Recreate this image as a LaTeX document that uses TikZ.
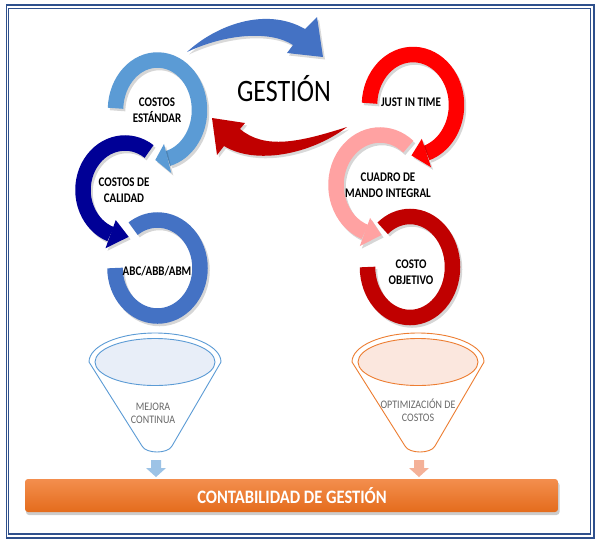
\documentclass[tikz,border=0pt]{standalone}
\usepackage{fontspec}
\setmainfont{Carlito}
\usetikzlibrary{calc}
\definecolor{framec}{RGB}{47,80,140}
\definecolor{lblue}{RGB}{91,155,213}
\definecolor{navyc}{RGB}{0,0,150}
\definecolor{mblue}{RGB}{68,114,196}
\definecolor{bred}{RGB}{255,0,0}
\definecolor{pinkc}{RGB}{255,162,162}
\definecolor{dred}{RGB}{192,0,0}
\definecolor{fbluefill}{RGB}{232,238,248}
\definecolor{forange}{RGB}{237,125,49}
\definecolor{forangefill}{RGB}{251,231,222}
\definecolor{arrblue}{RGB}{157,195,230}
\definecolor{arrorange}{RGB}{244,177,152}
\definecolor{bartop}{RGB}{243,142,78}
\definecolor{barbot}{RGB}{228,108,28}
\definecolor{ftext}{RGB}{105,105,105}

% cx cy rx ry start end color
\newcommand\ringarc[7]{%
 \begin{scope}[shift={(#1,#2)}]
  \draw[line width=15.5, black, opacity=.16, shift={(2,2.5)}] (#5:#3 and #4) arc[start angle=#5, end angle=#6, x radius=#3, y radius=#4];
  \draw[line width=15.5, #7] (#5:#3 and #4) arc[start angle=#5, end angle=#6, x radius=#3, y radius=#4];
 \end{scope}}
% cx cy rx ry baseangle tipangle halfwidth color
\newcommand\ringhead[8]{%
 \begin{scope}[shift={(#1,#2)}]
  \pgfmathsetmacro\hax{(#3+#7)*cos(#5)}\pgfmathsetmacro\hay{(#4+#7)*sin(#5)}%
  \pgfmathsetmacro\hbx{(#3-#7)*cos(#5)}\pgfmathsetmacro\hby{(#4-#7)*sin(#5)}%
  \pgfmathsetmacro\htx{#3*cos(#6)}\pgfmathsetmacro\hty{#4*sin(#6)}%
  \fill[black, opacity=.16, shift={(2,2.5)}] (\hax,\hay) -- (\htx,\hty) -- (\hbx,\hby) -- cycle;
  \fill[#8] (\hax,\hay) -- (\htx,\hty) -- (\hbx,\hby) -- cycle;
 \end{scope}}

\tikzset{
 ringtxt/.style={font=\bfseries\fontsize{11}{13}\selectfont, align=center, inner sep=0pt, text=black, yscale=1.2, transform shape},
 funneltxt/.style={font=\fontsize{10}{11.5}\selectfont, align=center, inner sep=0pt, text=ftext, yscale=1.15, transform shape},
 framebox/.style={draw=framec, line width=1.3},
}

\begin{document}
\begin{tikzpicture}[x=1pt, y=-1pt]
\useasboundingbox (0,0) rectangle (599,542);
\fill[white] (0,0) rectangle (599,542);

% frame
\draw[framebox] (6.5,5) rectangle (594,538);
\draw[framebox] (8.8,8.3) rectangle (590.5,534);

% big blue arrow (top)
\begin{scope}[shift={(2,2.5)}]
\fill[black, opacity=.15] (187,52) .. controls (215,26) and (265,6) .. (305,29) -- (317,17) -- (323,57) -- (287,53) -- (293,45) .. controls (270,30) and (225,34) .. (187,52) -- cycle;
\end{scope}
\fill[mblue] (187,52) .. controls (215,26) and (265,6) .. (305,29) -- (317,17) -- (323,57) -- (287,53) -- (293,45) .. controls (270,30) and (225,34) .. (187,52) -- cycle;

% big red arrow (middle)
\begin{scope}[shift={(2,2.5)}]
\fill[black, opacity=.15] (347,127) .. controls (300,142) and (265,150) .. (240,129) -- (245,123) -- (212,118) -- (217,155) -- (224,146) .. controls (255,165) and (310,155) .. (347,127) -- cycle;
\end{scope}
\fill[dred] (347,127) .. controls (300,142) and (265,150) .. (240,129) -- (245,123) -- (212,118) -- (217,155) -- (224,146) .. controls (255,165) and (310,155) .. (347,127) -- cycle;

% left column rings
\ringarc{157.5}{268}{42.5}{48}{-180}{-485}{mblue}
\ringarc{125}{190}{42}{47}{-55}{-250}{navyc}
\ringhead{125}{190}{42}{47}{-250}{-275}{15}{navyc}
\ringarc{157.5}{110}{42}{50}{182}{436}{lblue}
\ringhead{157.5}{110}{42}{50}{436}{453}{15}{lblue}

% right column rings
\ringarc{410}{267}{42.5}{50.5}{-180}{-490}{dred}
\ringarc{380}{185}{44}{50}{-50}{-250}{pinkc}
\ringhead{380}{185}{44}{50}{-250}{-272}{15}{pinkc}
\ringarc{413}{105}{43.5}{50.5}{182}{432}{bred}
\ringhead{413}{105}{43.5}{50.5}{432}{452}{15}{bred}

% ring texts
\node[ringtxt] (cs) at (157,110) {COSTOS\\ESTÁNDAR};
\node[ringtxt] (cc) at (124,190) {COSTOS DE\\CALIDAD};
\node[ringtxt] (abc) at (157,271) {ABC/ABB/ABM};
\node[ringtxt] (jit) at (411,102) {JUST IN TIME};
\node[ringtxt] (cmi) at (388,185) {CUADRO DE\\MANDO INTEGRAL};
\node[ringtxt] (co) at (411,272) {COSTO\\OBJETIVO};

% title
\node[font=\fontsize{26}{30}\selectfont, inner sep=0pt, yscale=1.2, transform shape] (gestion) at (284,89) {GESTIÓN};

% funnels
\draw[lblue, line width=.9, fill=white] (89,362) -- (142,446) .. controls (146,454) and (168,454) .. (172,446) -- (221,362) arc[start angle=0, end angle=-180, x radius=66, y radius=29] -- cycle;
\draw[lblue, line width=.9, fill=fbluefill] (155,362) ellipse[x radius=60, y radius=23.5];
\node[funneltxt] (mc) at (153,413) {MEJORA\\CONTINUA};

\draw[forange, line width=.9, fill=white] (352,362) -- (405,446) .. controls (409,454) and (431,454) .. (435,446) -- (484,362) arc[start angle=0, end angle=-180, x radius=66, y radius=29] -- cycle;
\draw[forange, line width=.9, fill=forangefill] (418,362) ellipse[x radius=60, y radius=23.5];
\node[funneltxt] (oc) at (418,410) {OPTIMIZACIÓN DE\\COSTOS};

% small down arrows
\fill[arrblue] (151,460) -- (161,460) -- (161,468) -- (166,468) -- (156,477) -- (146,468) -- (151,468) -- cycle;
\fill[arrorange] (414,460) -- (424,460) -- (424,468) -- (429,468) -- (419,477) -- (409,468) -- (414,468) -- cycle;

% bottom bar
\fill[black, opacity=.2, rounded corners=3] (26,482) rectangle (559.5,515);
\shade[top color=bartop, bottom color=barbot, rounded corners=3] (25,479) rectangle (558,512);
\node[font=\bfseries\fontsize{16.5}{19}\selectfont, text=white, inner sep=0pt, yscale=1.15, transform shape] (bar) at (292,496) {CONTABILIDAD DE GESTIÓN};
\end{tikzpicture}
\end{document}
